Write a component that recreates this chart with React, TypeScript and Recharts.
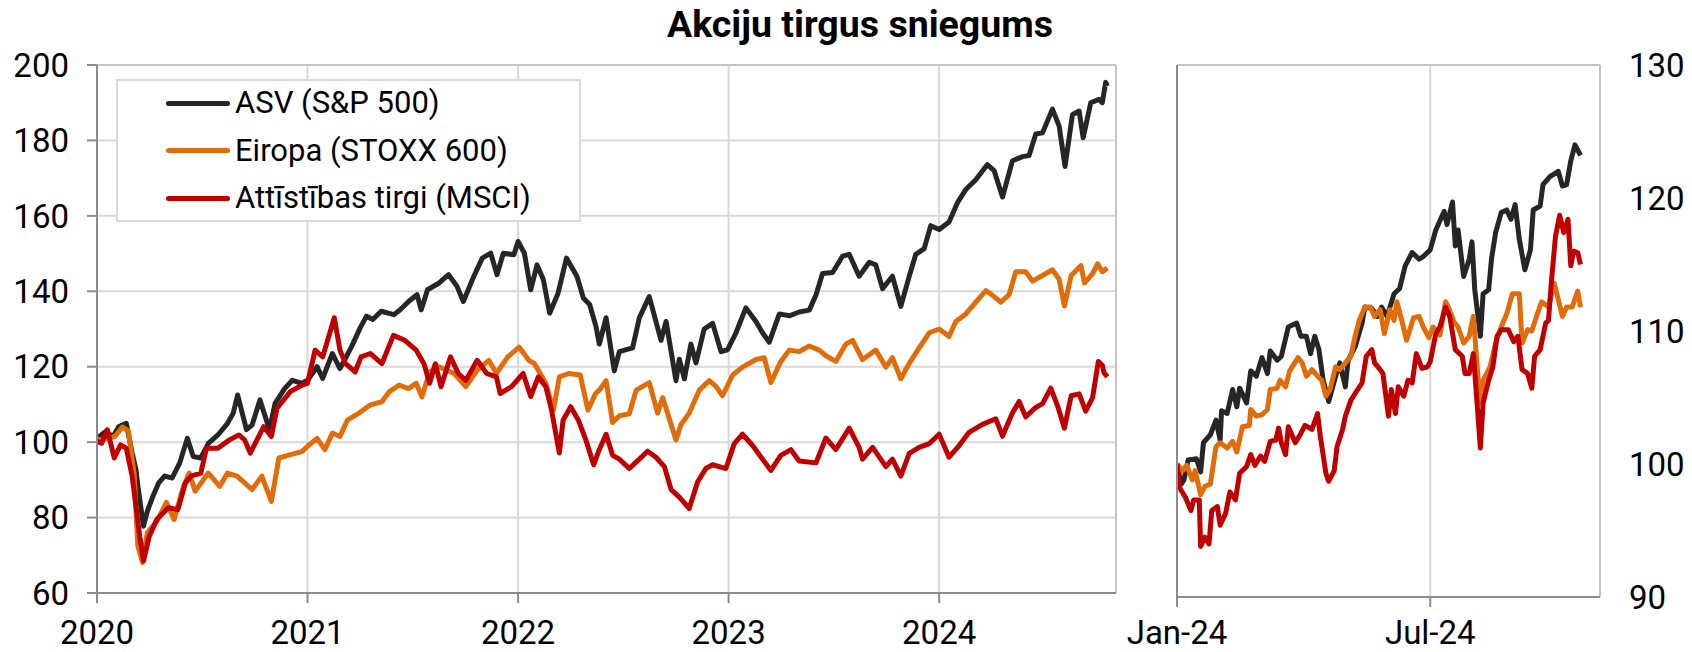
import React from "react";
import { LineChart, Line, XAxis, YAxis, CartesianGrid, ReferenceLine } from "recharts";

// ---------- Left panel: index, 2020 = 100 (time in fractional years) ----------
const SP500_LEFT: [number, number][] = [
  [2020.0, 101], [2020.04, 102.8], [2020.076, 101.5], [2020.103, 104.1], [2020.139, 105], [2020.167, 97.1],
  [2020.185, 92.7], [2020.195, 88], [2020.221, 77.7], [2020.239, 81.7], [2020.266, 85.7], [2020.293, 89.2],
  [2020.321, 91], [2020.357, 90.5], [2020.393, 94.5], [2020.429, 101], [2020.457, 96.2], [2020.493, 95.8],
  [2020.529, 99.7], [2020.574, 101.9], [2020.62, 105], [2020.647, 107.7], [2020.668, 112.5], [2020.71, 103.3],
  [2020.737, 104.6], [2020.774, 111.2], [2020.819, 103.3], [2020.846, 110.3], [2020.891, 114.2], [2020.928, 116.4],
  [2020.973, 115.6], [2021.0, 116.4], [2021.045, 120], [2021.072, 116.9], [2021.118, 123.5], [2021.154, 119.5],
  [2021.208, 125.2], [2021.25, 130.3], [2021.28, 133.4], [2021.31, 132.5], [2021.35, 134.7], [2021.41, 133.8],
  [2021.44, 135.1], [2021.48, 137.3], [2021.52, 139.1], [2021.54, 135.1], [2021.57, 140.4], [2021.625, 142.2],
  [2021.67, 144.4], [2021.71, 141.3], [2021.74, 137.3], [2021.79, 144], [2021.83, 148.8], [2021.87, 150.1],
  [2021.9, 144.4], [2021.93, 150.1], [2021.98, 149.7], [2022.0, 153.2], [2022.03, 150.1], [2022.06, 140.4],
  [2022.09, 147], [2022.12, 143.1], [2022.15, 134.2], [2022.19, 139.5], [2022.23, 148.8], [2022.28, 143.9],
  [2022.31, 138.2], [2022.34, 136.5], [2022.37, 130.7], [2022.386, 126], [2022.418, 133], [2022.457, 118.9],
  [2022.481, 124], [2022.544, 125], [2022.576, 133], [2022.623, 138.6], [2022.679, 127], [2022.703, 132],
  [2022.75, 116.3], [2022.766, 122], [2022.79, 116.8], [2022.821, 126], [2022.845, 121], [2022.884, 130],
  [2022.924, 131.5], [2022.964, 124], [2022.995, 124.5], [2023.035, 129], [2023.082, 135.6], [2023.13, 132],
  [2023.161, 129], [2023.193, 126.5], [2023.241, 134], [2023.288, 133.5], [2023.335, 134.5], [2023.383, 135],
  [2023.415, 139], [2023.446, 144.7], [2023.494, 145], [2023.541, 149.3], [2023.573, 149.8], [2023.62, 144],
  [2023.668, 147.7], [2023.699, 147], [2023.731, 140.7], [2023.778, 144], [2023.818, 136], [2023.858, 144],
  [2023.889, 149.8], [2023.929, 151.3], [2023.96, 157.4], [2024.0, 156.4], [2024.047, 158.4], [2024.087, 163.5],
  [2024.127, 167], [2024.174, 169.6], [2024.229, 173.6], [2024.261, 172], [2024.301, 165], [2024.348, 174.6],
  [2024.396, 175.7], [2024.427, 176], [2024.459, 181.7], [2024.491, 182], [2024.538, 188.3], [2024.57, 183.8],
  [2024.598, 173.1], [2024.633, 186.8], [2024.665, 187.8], [2024.684, 180.7], [2024.72, 190], [2024.759, 190.9],
  [2024.775, 190], [2024.791, 195.4], [2024.799, 194.4],
];

const STOXX_LEFT: [number, number][] = [
  [2020.0, 100.6], [2020.049, 101], [2020.085, 101.5], [2020.121, 104], [2020.149, 103], [2020.176, 91.8],
  [2020.194, 72.5], [2020.216, 68.1], [2020.239, 76], [2020.284, 79], [2020.33, 84], [2020.366, 79.5],
  [2020.411, 88.3], [2020.438, 91.8], [2020.466, 87], [2020.529, 91.8], [2020.583, 88.3], [2020.62, 91.8],
  [2020.665, 91], [2020.701, 89.2], [2020.737, 87.4], [2020.783, 91], [2020.828, 84.3], [2020.864, 95.8],
  [2020.918, 96.7], [2020.973, 97.5], [2021.0, 98.9], [2021.045, 101], [2021.082, 98], [2021.118, 102.4],
  [2021.154, 101.5], [2021.19, 105.9], [2021.245, 107.7], [2021.299, 109.9], [2021.353, 110.7], [2021.389, 113.4],
  [2021.435, 115.1], [2021.48, 114.2], [2021.516, 115.6], [2021.543, 112], [2021.58, 118.6], [2021.625, 120],
  [2021.697, 118.2], [2021.752, 114.7], [2021.806, 119.1], [2021.861, 121.7], [2021.897, 118.2], [2021.951, 122.6],
  [2022.005, 125.2], [2022.051, 121.7], [2022.078, 120.8], [2022.132, 115.6], [2022.168, 108.5], [2022.196, 117.3],
  [2022.241, 118.2], [2022.295, 117.8], [2022.332, 108.5], [2022.368, 112.9], [2022.386, 113.8], [2022.418, 116.3],
  [2022.449, 105.2], [2022.481, 107], [2022.528, 107.5], [2022.561, 113.8], [2022.623, 115.8], [2022.663, 107.7],
  [2022.687, 111.8], [2022.727, 104.7], [2022.75, 100.6], [2022.774, 104.7], [2022.813, 107.7], [2022.861, 113.8],
  [2022.908, 116.3], [2022.94, 114.8], [2022.971, 112.3], [2023.019, 117.8], [2023.066, 119.9], [2023.13, 121.9],
  [2023.169, 122.4], [2023.201, 115.8], [2023.248, 121.4], [2023.288, 124.4], [2023.335, 124], [2023.383, 125.5],
  [2023.43, 124.4], [2023.462, 122.9], [2023.509, 121.4], [2023.557, 126], [2023.589, 127], [2023.636, 121.9],
  [2023.699, 124.4], [2023.747, 119.9], [2023.778, 122.4], [2023.818, 116.8], [2023.858, 120.9], [2023.905, 125],
  [2023.953, 129], [2024.0, 130], [2024.047, 128], [2024.079, 132], [2024.127, 134], [2024.174, 137.1],
  [2024.222, 140.2], [2024.261, 138.6], [2024.293, 137.1], [2024.332, 139.1], [2024.364, 145.2], [2024.411, 145.2],
  [2024.443, 142.7], [2024.491, 144.2], [2024.538, 145.7], [2024.57, 143.2], [2024.595, 136.1], [2024.627, 144.2],
  [2024.674, 146.8], [2024.69, 142.2], [2024.729, 144.7], [2024.753, 147.3], [2024.775, 145.2], [2024.799, 146.2],
];

const MSCI_LEFT: [number, number][] = [
  [2020.0, 100.2], [2020.022, 99.7], [2020.049, 103.3], [2020.082, 95.8], [2020.112, 99.3], [2020.139, 98.4],
  [2020.167, 91], [2020.203, 75], [2020.221, 68.5], [2020.248, 75], [2020.284, 79.5], [2020.339, 82.6],
  [2020.384, 82.1], [2020.42, 89.2], [2020.447, 91], [2020.493, 91.8], [2020.52, 98.4], [2020.574, 98.4],
  [2020.629, 100.6], [2020.674, 101.9], [2020.701, 100.6], [2020.728, 97.1], [2020.792, 104.1], [2020.828, 101.5],
  [2020.855, 109], [2020.918, 113.4], [2020.973, 115.1], [2021.0, 115.6], [2021.036, 124.4], [2021.072, 122.6],
  [2021.1, 127.9], [2021.127, 133], [2021.154, 124.4], [2021.181, 120.8], [2021.226, 118.6], [2021.254, 122.6],
  [2021.299, 123.5], [2021.353, 120.8], [2021.408, 128.3], [2021.462, 127], [2021.516, 124.4], [2021.553, 120.8],
  [2021.58, 115.6], [2021.607, 120.8], [2021.634, 114.7], [2021.679, 122.6], [2021.716, 118.2], [2021.752, 116.4],
  [2021.806, 121.7], [2021.851, 118.2], [2021.897, 117.3], [2021.915, 112.9], [2021.969, 114.7], [2022.024, 118.2],
  [2022.06, 112.1], [2022.096, 117.3], [2022.132, 114.7], [2022.159, 108.5], [2022.196, 97.1], [2022.214, 105.9],
  [2022.25, 109.4], [2022.286, 105.9], [2022.322, 100.6], [2022.359, 94], [2022.382, 97.5], [2022.418, 102.1],
  [2022.449, 96.5], [2022.481, 95.5], [2022.528, 93], [2022.576, 95.5], [2022.615, 97.6], [2022.655, 96],
  [2022.695, 93.5], [2022.727, 87.4], [2022.766, 85.4], [2022.813, 82.4], [2022.853, 89.5], [2022.892, 93],
  [2022.924, 94], [2022.987, 93], [2023.027, 99.6], [2023.066, 102.1], [2023.114, 99.1], [2023.161, 95.5],
  [2023.201, 92.5], [2023.248, 96.5], [2023.296, 98], [2023.335, 95], [2023.415, 94.5], [2023.462, 101.1],
  [2023.509, 98], [2023.573, 103.7], [2023.62, 98.6], [2023.636, 95.5], [2023.684, 98.6], [2023.747, 93.5],
  [2023.778, 95.5], [2023.818, 91], [2023.858, 97], [2023.905, 98.6], [2023.953, 99.6], [2024.0, 102.1],
  [2024.047, 96], [2024.095, 99.1], [2024.142, 102.6], [2024.206, 104.7], [2024.269, 106.2], [2024.301, 101.6],
  [2024.348, 107.7], [2024.38, 110.8], [2024.411, 106.7], [2024.459, 109.2], [2024.491, 110.2], [2024.53, 114.3],
  [2024.562, 109.7], [2024.595, 103.7], [2024.627, 112.3], [2024.665, 112.8], [2024.696, 108.2], [2024.729, 111.8],
  [2024.756, 121.4], [2024.775, 120.4], [2024.783, 118.4], [2024.799, 117.3],
];

// ---------- Right panel: index, Jan-24 = 100 (time in days since 1 Jan 2024) ----------
const SP500_RIGHT: [number, number][] = [
  [0, 100], [3, 98.5], [5, 98.8], [8, 100.3], [14, 100.4], [17, 99.4], [19, 101.6], [24, 102.2], [28, 103.3],
  [31, 101.8], [32, 104], [36, 103.8], [40, 105.6], [43, 104.3], [45, 105.7], [50, 104.6], [53, 107], [57, 106.6],
  [61, 108], [65, 106.8], [67, 108.5], [72, 107.8], [75, 108.1], [80, 110.3], [86, 110.6], [89, 109.6], [93, 109.6],
  [96, 108.3], [99, 109.6], [102, 108.6], [105, 106.3], [109, 104.7], [114, 106.6], [117, 107.6], [121, 105.8],
  [123, 107.8], [128, 108.8], [133, 110.6], [135, 111.8], [140, 111.7], [144, 111.1], [147, 111.8], [151, 111.1],
  [156, 112.8], [160, 113.2], [164, 114.9], [169, 115.9], [174, 115.4], [177, 115.6], [182, 116.1], [186, 117.6],
  [192, 119], [194, 118], [198, 119.7], [200, 116.4], [202, 117.6], [206, 114.1], [210, 115.4], [212, 116.7],
  [214, 113.1], [218, 109.6], [220, 112.8], [224, 113.1], [226, 115.4], [229, 117.4], [233, 118.9], [237, 119.1],
  [240, 118.4], [243, 119.5], [246, 116.9], [250, 114.6], [254, 116.1], [256, 119.1], [261, 119.4], [263, 121],
  [268, 121.6], [274, 122], [277, 120.9], [280, 121], [283, 122.8], [286, 124], [290, 123.2],
];

const STOXX_RIGHT: [number, number][] = [
  [0, 100], [4, 99.5], [7, 99.9], [11, 98.8], [13, 99.5], [17, 97.7], [20, 98.3], [24, 98.5], [28, 101.3],
  [31, 101.6], [36, 101.2], [40, 101.7], [43, 100.9], [47, 102.8], [52, 102.9], [53, 104.1], [57, 103.6],
  [61, 103.7], [65, 104.1], [67, 105.6], [72, 105.7], [74, 106.3], [78, 105.8], [81, 107], [87, 108], [90, 107.6],
  [93, 106.6], [97, 107.1], [101, 106.6], [104, 106.3], [107, 105.1], [110, 105.6], [114, 107.3], [117, 107.1],
  [121, 107.6], [125, 108.1], [128, 109.6], [131, 110.8], [135, 111.8], [139, 111.8], [142, 111.1], [146, 111.6],
  [149, 109.8], [153, 111.6], [156, 110.8], [158, 112.2], [162, 110.6], [165, 109.3], [170, 111], [174, 111.1],
  [177, 110.3], [181, 109.5], [184, 110.3], [189, 109.7], [193, 112.2], [195, 111.8], [199, 110.7], [202, 110.3],
  [206, 109.1], [210, 109.6], [213, 111.1], [217, 105.6], [218, 104.6], [220, 106.3], [225, 107.3], [229, 109.1],
  [233, 110.3], [237, 111.3], [241, 112.8], [246, 112.8], [248, 109.1], [252, 110.1], [255, 110], [259, 111.3],
  [262, 112.2], [267, 111.8], [271, 113.6], [273, 112.8], [277, 111.1], [280, 111.8], [284, 111.8], [288, 113],
  [290, 111.8],
];

const MSCI_RIGHT: [number, number][] = [
  [0, 100], [2, 98.2], [6, 97.5], [10, 96.5], [12, 97.3], [16, 97.3], [17, 93.8], [20, 94.5], [23, 94],
  [25, 96.5], [29, 96.8], [31, 95.4], [35, 96.3], [38, 97.9], [42, 97.3], [45, 99.3], [50, 99.8], [53, 100.7],
  [56, 99.9], [60, 100.6], [63, 100.2], [67, 101.7], [71, 101.8], [73, 102.7], [75, 101.6], [78, 100.7],
  [80, 102.8], [85, 101.6], [89, 102.3], [92, 102.9], [97, 102.6], [101, 103.8], [103, 102.1], [107, 99.3],
  [109, 98.7], [113, 99.5], [115, 101.3], [119, 102.6], [121, 103.6], [125, 104.8], [128, 105.3], [133, 106.1],
  [136, 108.1], [140, 108.6], [142, 107.6], [146, 107.1], [148, 106.8], [152, 103.6], [154, 105.6], [157, 103.8],
  [159, 105.8], [163, 105.1], [166, 106.3], [169, 106.1], [172, 108.3], [176, 107.2], [180, 107.3], [182, 107.7],
  [186, 109.8], [189, 110.3], [193, 111.8], [196, 111.1], [200, 108.6], [205, 108.1], [207, 106.8], [210, 106.8],
  [213, 108.3], [216, 104.1], [218, 101.2], [220, 104.6], [224, 106.3], [227, 107.3], [230, 109.6], [233, 110.1],
  [238, 110.1], [242, 109.2], [245, 109.6], [248, 107.1], [252, 106.8], [255, 105.7], [257, 108.1], [261, 108.6],
  [265, 110.6], [267, 110.8], [269, 113.6], [272, 117.1], [275, 118.7], [278, 117.4], [281, 118.4], [283, 114.9],
  [285, 116], [288, 115.9], [290, 115],
];

const LEFT_YEAR_TICKS = [2020, 2021, 2022, 2023, 2024];
const LEFT_Y_TICKS = [60, 80, 100, 120, 140, 160, 180, 200];
const RIGHT_X_TICKS = [0, 182];
const RIGHT_X_LABELS: Record<number, string> = { 0: "Jan-24", 182: "Jul-24" };
const RIGHT_Y_TICKS = [90, 100, 110, 120, 130];

const SERIES = [
  { name: "ASV (S&P 500)", color: "#262626" },
  { name: "Eiropa (STOXX 600)", color: "#E36C0A" },
  { name: "Attīstības tirgi (MSCI)", color: "#C00000" },
];
const TITLE = "Akciju tirgus sniegums";

const toPts = (a: [number, number][]) => a.map(([t, v]) => ({ t, v }));

const GRID = "#d9d9d9";
const AXIS = "#8c8c8c";
const BORDER = "#c4c4c4";
const FS = 33;
const LW = 5;

export default function App() {
  const leftData = [SP500_LEFT, STOXX_LEFT, MSCI_LEFT].map(toPts);
  const rightData = [SP500_RIGHT, STOXX_RIGHT, MSCI_RIGHT].map(toPts);
  const LEFT_END = 2024.84;
  const RIGHT_END = 304;

  return (
    <div style={{ position: "absolute", left: 0, top: 0, width: 1692, height: 652, background: "#fff", fontFamily: "Roboto", overflow: "hidden" }}>
      <div style={{ position: "absolute", left: 460, top: 6, width: 800, textAlign: "center", fontSize: 37.5, lineHeight: "37.5px", fontWeight: 700, color: "#000" }}>
        {TITLE}
      </div>

      <div style={{ position: "absolute", left: 0, top: 0 }}>
        <LineChart width={1130} height={652} margin={{ top: 65, right: 14, bottom: 0, left: 0 }}>
          <CartesianGrid stroke={GRID} strokeWidth={2} />
          <XAxis dataKey="t" type="number" domain={[2020, LEFT_END]} ticks={LEFT_YEAR_TICKS} allowDataOverflow
            height={59} tickSize={10} tickMargin={18} stroke={AXIS} strokeWidth={2}
            tick={{ fill: "#000", fontSize: FS }} tickLine={{ stroke: AXIS, strokeWidth: 2 }} />
          <YAxis type="number" domain={[60, 200]} ticks={LEFT_Y_TICKS} allowDataOverflow width={97}
            tickSize={10} tickMargin={18} stroke={AXIS} strokeWidth={2}
            tick={{ fill: "#000", fontSize: FS }} tickLine={{ stroke: AXIS, strokeWidth: 2 }} />
          <ReferenceLine y={200} stroke={BORDER} strokeWidth={2} />
          <ReferenceLine x={LEFT_END} stroke={BORDER} strokeWidth={2} />
          {leftData.map((d, i) => (
            <Line key={i} data={d} dataKey="v" type="linear" stroke={SERIES[i].color} strokeWidth={LW}
              dot={false} isAnimationActive={false} strokeLinejoin="round" />
          ))}
        </LineChart>
      </div>

      <div style={{ position: "absolute", left: 1100, top: 0 }}>
        <LineChart width={592} height={652} margin={{ top: 65, right: 0, bottom: 0, left: 0 }}>
          <CartesianGrid stroke={GRID} strokeWidth={2} yAxisId="l" />
          <XAxis dataKey="t" type="number" domain={[0, RIGHT_END]} ticks={RIGHT_X_TICKS} allowDataOverflow
            height={55} tickSize={10} tickMargin={14} stroke={AXIS} strokeWidth={2}
            tickFormatter={(v: number) => RIGHT_X_LABELS[v] ?? ""}
            tick={{ fill: "#000", fontSize: FS }} tickLine={{ stroke: AXIS, strokeWidth: 2 }} />
          <YAxis yAxisId="l" type="number" domain={[90, 130]} ticks={RIGHT_Y_TICKS} allowDataOverflow width={77}
            tickSize={10} stroke={AXIS} strokeWidth={2} tick={false} tickLine={{ stroke: AXIS, strokeWidth: 2 }} />
          <YAxis yAxisId="r" orientation="right" type="number" domain={[90, 130]} ticks={RIGHT_Y_TICKS} allowDataOverflow
            width={92} tickSize={0} tickMargin={29} axisLine={false} tickLine={false}
            tick={{ fill: "#000", fontSize: FS, textAnchor: "start" }} />
          <ReferenceLine yAxisId="l" y={130} stroke={BORDER} strokeWidth={2} />
          <ReferenceLine yAxisId="l" x={RIGHT_END} stroke={BORDER} strokeWidth={2} />
          {rightData.map((d, i) => (
            <Line key={i} yAxisId="l" data={d} dataKey="v" type="linear" stroke={SERIES[i].color} strokeWidth={LW}
              dot={false} isAnimationActive={false} strokeLinejoin="round" />
          ))}
        </LineChart>
      </div>

      <div style={{ position: "absolute", left: 116, top: 79, width: 465, height: 143, boxSizing: "border-box", border: `2px solid ${GRID}`, background: "#fff" }}>
        {SERIES.map((s, i) => (
          <div key={i} style={{ position: "absolute", left: 0, top: 2 + i * 47.5, height: 40, width: 460 }}>
            <div style={{ position: "absolute", left: 48, width: 64, height: 5, top: 17.5, background: s.color, borderRadius: 2.5 }} />
            <span style={{ position: "absolute", left: 117, top: 0, lineHeight: "40px", fontSize: 31, color: "#000", whiteSpace: "nowrap" }}>{s.name}</span>
          </div>
        ))}
      </div>
    </div>
  );
}
